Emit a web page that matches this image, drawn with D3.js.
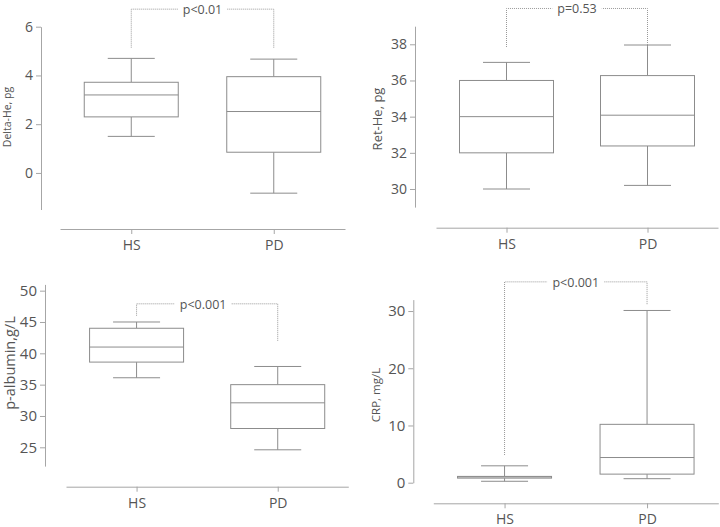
<!DOCTYPE html>
<html>
<head>
<meta charset="utf-8">
<script src="https://cdn.jsdelivr.net/npm/d3@7"></script>
<style>
  body { margin: 0; background: #fff; }
  svg { display: block; font-family: "Open Sans", sans-serif; }
  .tick text { fill: #555; }
</style>
</head>
<body>
<svg id="chart" width="720" height="527"></svg>
<script>
// groups on every x axis
const groups = ["HS", "PD"];

// box stats: [lower whisker, Q1, median, Q3, upper whisker]
const deltaHeHS = [1.5, 2.3, 3.2, 3.72, 4.7];
const deltaHePD = [-0.83, 0.85, 2.52, 3.95, 4.67];
const retHeHS = [30.0, 32.0, 34.0, 36.0, 37.0];
const retHePD = [30.2, 32.38, 34.08, 36.27, 37.96];
const albuminHS = [36.1, 38.6, 41.0, 44.0, 45.0];
const albuminPD = [24.6, 28.0, 32.1, 35.0, 37.9];
const crpHS = [0.25, 0.8, 1.0, 1.1, 2.95];
const crpPD = [0.7, 1.5, 4.4, 10.2, 30.1];

// y tick labels
const deltaHeTicks = [0, 2, 4, 6];
const retHeTicks = [30, 32, 34, 36, 38];
const albuminTicks = [25, 30, 35, 40, 45, 50];
const crpTicks = [0, 10, 20, 30];

// p-values and bracket heights: [top, HS leg end, PD leg end]
const pLabels = ["p<0.01", "p=0.53", "p<0.001", "p<0.001"];
const deltaHeBracket = [6.72, 5.14, 5.14];
const retHeBracket = [39.98, 37.85, 37.85];
const albuminBracket = [47.9, 46.0, 42.0];
const crpBracket = [35.1, 4.84, 31.2];

const axisLabels = ["Delta-He, pg", "Ret-He, pg", "p-albumin,g/L", "CRP, mg/L"];

// layout of each panel (pixels)
const panels = [
  { stats: [deltaHeHS, deltaHePD], ticks: deltaHeTicks, bracket: deltaHeBracket, domain: [-1.5, 6],
    yAxisX: 41, yRange: [209.5, 26.7], xAxisY: 229, xRange: [60, 345],
    label: { x: 8, y: 117, size: 10.5 }, tickSize: 14, pShift: 0 },
  { stats: [retHeHS, retHePD], ticks: retHeTicks, bracket: retHeBracket, domain: [29, 39],
    yAxisX: 415, yRange: [207.1, 26.2], xAxisY: 227.7, xRange: [436, 718],
    label: { x: 379, y: 119, size: 13 }, tickSize: 14, pShift: 0 },
  { stats: [albuminHS, albuminPD], ticks: albuminTicks, bracket: albuminBracket, domain: [22, 51],
    yAxisX: 45, yRange: [466.1, 284.4], xAxisY: 486.7, xRange: [66, 348.3],
    label: { x: 11, y: 363, size: 14.5 }, tickSize: 15, pShift: -4 },
  { stats: [crpHS, crpPD], ticks: crpTicks, bracket: crpBracket, domain: [0, 32],
    yAxisX: 413.3, yRange: [482.7, 299.6], xAxisY: 503.3, xRange: [433.3, 718.3],
    label: { x: 377, y: 395, size: 11.5 }, tickSize: 15, pShift: 0 }
];

const svg = d3.select("#chart");
const axisColor = "#a6a6a6";
const boxColor = "#8c8c8c";
const boxW = 94, capW = 47;

panels.forEach((p, i) => {
  const g = svg.append("g");
  const y = d3.scaleLinear().domain(p.domain).range(p.yRange);
  const x = d3.scalePoint().domain(groups).range(p.xRange).padding(0.5);

  // y axis
  const gy = g.append("g")
    .attr("transform", `translate(${p.yAxisX},0)`)
    .call(d3.axisLeft(y).tickValues(p.ticks).tickSize(5).tickSizeOuter(0).tickPadding(3))
    .attr("font-family", null).attr("font-size", null);
  gy.selectAll("path, line").attr("stroke", axisColor);
  gy.selectAll("text").style("font-size", p.tickSize + "px");

  // x axis
  const gx = g.append("g")
    .attr("transform", `translate(0,${p.xAxisY})`)
    .call(d3.axisBottom(x).tickSize(5).tickSizeOuter(0).tickPadding(6))
    .attr("font-family", null).attr("font-size", null);
  gx.selectAll("path, line").attr("stroke", axisColor);
  gx.selectAll("text").style("font-size", "14px");

  // y axis title
  g.append("text")
    .attr("transform", `translate(${p.label.x},${p.label.y}) rotate(-90)`)
    .attr("text-anchor", "middle")
    .attr("dominant-baseline", "middle")
    .style("font-size", p.label.size + "px")
    .attr("fill", "#555")
    .text(axisLabels[i]);

  // boxes
  p.stats.forEach((s, j) => {
    const cx = x(groups[j]);
    const bg = g.append("g").attr("stroke", boxColor).attr("fill", "none").attr("stroke-width", 1);
    bg.append("line").attr("x1", cx).attr("x2", cx).attr("y1", y(s[0])).attr("y2", y(s[1]));
    bg.append("line").attr("x1", cx).attr("x2", cx).attr("y1", y(s[3])).attr("y2", y(s[4]));
    bg.append("line").attr("x1", cx - capW / 2).attr("x2", cx + capW / 2).attr("y1", y(s[0])).attr("y2", y(s[0]));
    bg.append("line").attr("x1", cx - capW / 2).attr("x2", cx + capW / 2).attr("y1", y(s[4])).attr("y2", y(s[4]));
    bg.append("rect")
      .attr("x", cx - boxW / 2).attr("width", boxW)
      .attr("y", y(s[3])).attr("height", y(s[1]) - y(s[3]))
      .attr("fill", "#fff");
    bg.append("line").attr("x1", cx - boxW / 2).attr("x2", cx + boxW / 2).attr("y1", y(s[2])).attr("y2", y(s[2]));
  });

  // significance bracket
  const [top, legA, legB] = p.bracket;
  const xa = x(groups[0]), xb = x(groups[1]);
  const mid = (xa + xb) / 2 + p.pShift;
  const t = g.append("text")
    .attr("x", mid).attr("y", y(top) + 1.5)
    .attr("text-anchor", "middle")
    .attr("dominant-baseline", "middle")
    .style("font-size", "12.5px")
    .attr("fill", "#555")
    .text(pLabels[i]);
  const half = t.node().getComputedTextLength() / 2 + 5;
  const dots = g.append("g").attr("stroke", "#999").attr("stroke-dasharray", "1,1").attr("fill", "none");
  dots.append("path").attr("d", `M${xa},${y(legA)}V${y(top)}H${mid - half}`);
  dots.append("path").attr("d", `M${xb},${y(legB)}V${y(top)}H${mid + half}`);
});
</script>
</body>
</html>
